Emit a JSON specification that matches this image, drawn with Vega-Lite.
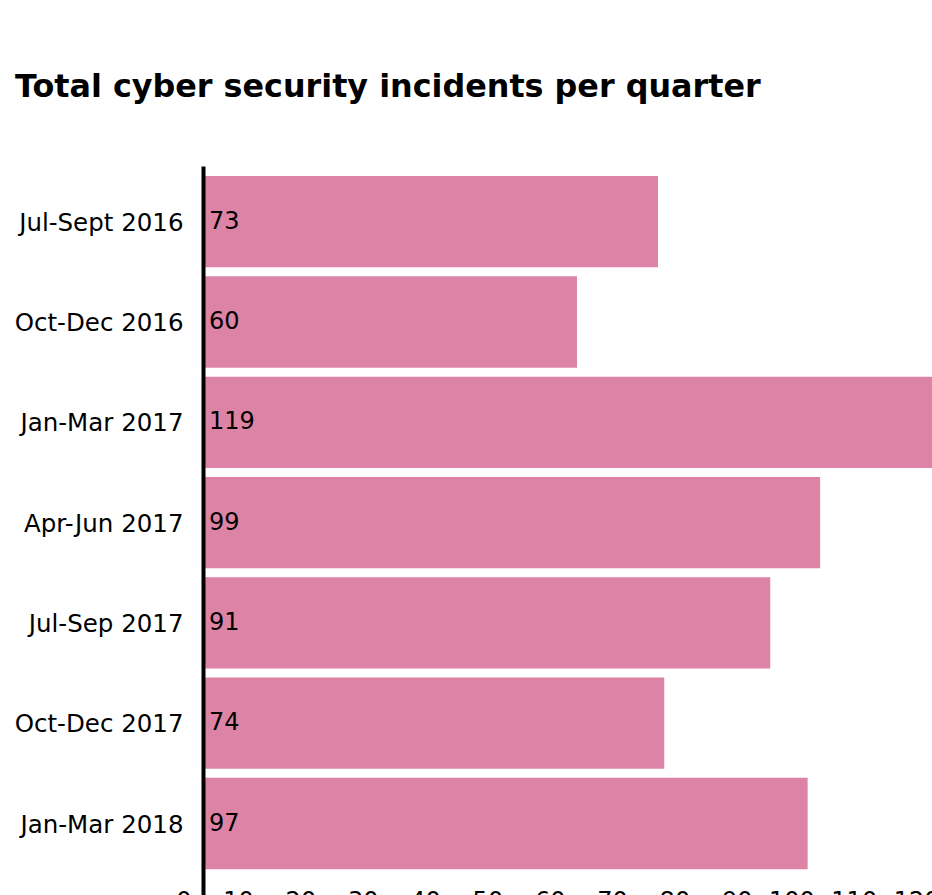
{
  "$schema": "https://vega.github.io/schema/vega-lite/v6.json",
  "autosize": {"type": "none"},
  "padding": {"left": 203, "top": 166, "right": -19, "bottom": 0},
  "width": 748,
  "height": 729,
  "background": "white",
  "config": {
    "font": "DejaVu Sans",
    "view": {"stroke": null}
  },
  "title": {
    "text": "Total cyber security incidents per quarter",
    "anchor": "start",
    "frame": "group",
    "dx": -188,
    "font": "DejaVu Sans",
    "fontSize": 31.8,
    "fontWeight": "bold",
    "color": "black",
    "offset": 62
  },
  "data": {
    "values": [
      {"quarter": "Jul-Sept 2016", "incidents": 73},
      {"quarter": "Oct-Dec 2016", "incidents": 60},
      {"quarter": "Jan-Mar 2017", "incidents": 119},
      {"quarter": "Apr-Jun 2017", "incidents": 99},
      {"quarter": "Jul-Sep 2017", "incidents": 91},
      {"quarter": "Oct-Dec 2017", "incidents": 74},
      {"quarter": "Jan-Mar 2018", "incidents": 97}
    ]
  },
  "encoding": {
    "y": {
      "field": "quarter",
      "type": "nominal",
      "sort": null,
      "title": null,
      "scale": {"paddingInner": 0.09, "paddingOuter": 0.179, "align": 0.28},
      "axis": {
        "zindex": 1,
        "domain": true,
        "domainColor": "black",
        "domainWidth": 4,
        "ticks": false,
        "labelFontSize": 24.5,
        "labelColor": "black",
        "labelPadding": 20,
        "labelOffset": 2
      }
    }
  },
  "layer": [
    {
      "mark": {"type": "bar", "color": "#dd83a6"},
      "encoding": {
        "x": {
          "field": "incidents",
          "type": "quantitative",
          "title": null,
          "scale": {"domain": [0, 120], "nice": false},
          "axis": {
            "values": [0, 10, 20, 30, 40, 50, 60, 70, 80, 90, 100, 110, 120],
            "domain": false,
            "ticks": false,
            "grid": false,
            "labelFontSize": 24,
            "labelColor": "black",
            "labelAlign": "right",
            "labelOffset": -12,
            "labelPadding": -6,
            "labelFlush": false,
            "labelOverlap": false
          }
        }
      }
    },
    {
      "mark": {"type": "text", "align": "left", "baseline": "middle", "dx": 6, "fontSize": 24, "color": "black"},
      "encoding": {
        "x": {"datum": 0},
        "text": {"field": "incidents", "type": "quantitative"}
      }
    }
  ]
}
